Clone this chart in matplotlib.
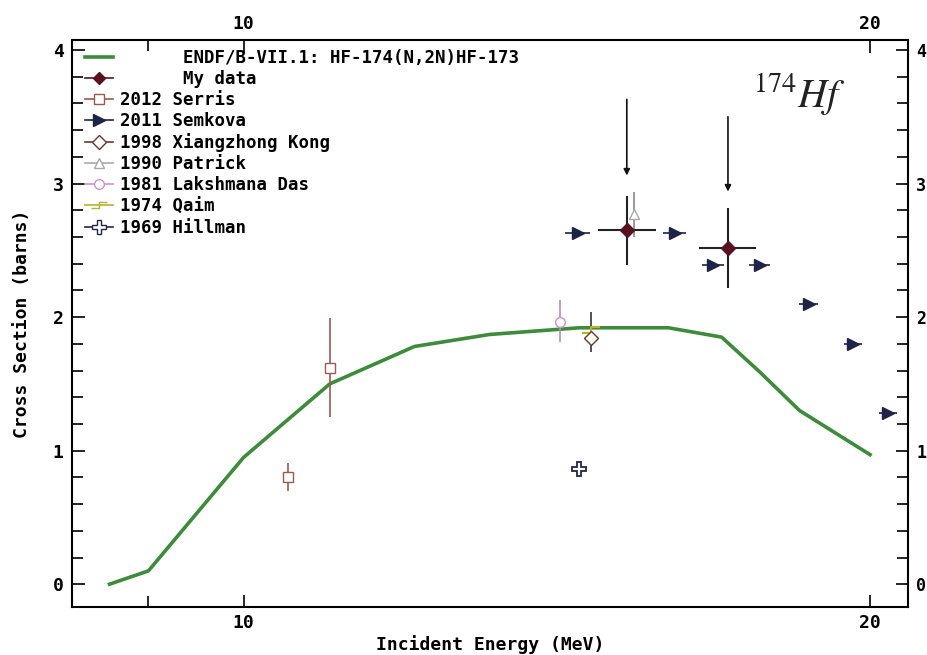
import numpy as np
import matplotlib.pyplot as plt
from matplotlib.ticker import FixedLocator, MultipleLocator, NullFormatter
from matplotlib.path import Path
from matplotlib.lines import Line2D

# ENDF/B-VII.1 evaluation
endf_e = [8.62, 9.0, 10.0, 11.0, 12.08, 13.13, 14.5, 16.0, 16.97, 17.7, 18.5, 20.0]
endf_xs = [0.0, 0.1, 0.95, 1.5, 1.78, 1.87, 1.92, 1.92, 1.85, 1.59, 1.30, 0.97]

my_e = [15.28, 17.09]
my_xs = [2.65, 2.52]
my_dxs = [0.26, 0.30]
my_de_lo = [0.48, 0.54]
my_de_hi = [0.50, 0.54]
arrow_top = [3.63, 3.50]
arrow_tip = [3.06, 2.94]

serris_e = [10.5, 11.0]
serris_xs = [0.80, 1.62]
serris_lo = [0.10, 0.37]
serris_hi = [0.11, 0.37]

semkova_e = [14.47, 16.11, 16.81, 17.7, 18.69, 19.63, 20.4]
semkova_xs = [2.63, 2.63, 2.39, 2.39, 2.10, 1.80, 1.28]
semkova_de = [0.2, 0.2, 0.2, 0.2, 0.2, 0.2, 0.2]

kong_e = [14.68]
kong_xs = [1.84]
kong_lo = [0.10]
kong_hi = [0.20]

patrick_e = [15.4]
patrick_xs = [2.77]
patrick_dxs = [0.17]

das_e = [14.19]
das_xs = [1.96]
das_lo = [0.15]
das_hi = [0.17]

qaim_e = [14.68]
qaim_xs = [1.90]

hillman_e = [14.49]
hillman_xs = [0.86]

zig = Path([(-1, -0.35), (0, -0.35), (0, 0.35), (1, 0.35)],
           [Path.MOVETO, Path.LINETO, Path.LINETO, Path.LINETO])

mono = 'DejaVu Sans Mono'
tick_font = {'family': mono, 'weight': 'bold', 'size': 13}

fig = plt.figure(figsize=(9.28, 6.55), dpi=100)
ax = fig.add_axes([0.0776, 0.073, 0.9005, 0.866])

l_endf, = ax.plot(endf_e, endf_xs, color='#3c8c3c', lw=2.6,
                  label='ENDF/B-VII.1: HF-174(N,2N)HF-173')

ax.errorbar(serris_e, serris_xs, yerr=[serris_lo, serris_hi], fmt='s', ms=7,
            mfc='white', mec='#9a5a50', ecolor='#9a5a50', elinewidth=1.2, capsize=0)
ax.errorbar(semkova_e, semkova_xs, xerr=semkova_de, fmt='>', ms=8,
            color='#1e2347', ecolor='#1e2347', elinewidth=1.2, capsize=0)
ax.errorbar(das_e, das_xs, yerr=[das_lo, das_hi], fmt='o', ms=7,
            mfc='white', mec='#d090d0', ecolor='#b090b0', elinewidth=1.2, capsize=0)
ax.errorbar(kong_e, kong_xs, yerr=[kong_lo, kong_hi], fmt='D', ms=7,
            mfc='white', mec='#6b3a2a', ecolor='#333333', elinewidth=1.2, capsize=0)
ax.plot(qaim_e, qaim_xs, ls='none', marker=zig, ms=13, mfc='none', mec='#b8b030', mew=1.5)
ax.errorbar(patrick_e, patrick_xs, yerr=patrick_dxs, fmt='^', ms=7,
            mfc='white', mec='#aaaaaa', ecolor='#888888', elinewidth=1.2, capsize=0)
ax.plot(hillman_e, hillman_xs, ls='none', marker='P', ms=10,
        mfc='white', mec='#22264a', mew=1.3)
ax.errorbar(my_e, my_xs, yerr=my_dxs, xerr=[my_de_lo, my_de_hi], fmt='D', ms=7,
            color='#5a1020', ecolor='#222222', elinewidth=1.5, capsize=0, zorder=5)

for e, y0, y1 in zip(my_e, arrow_top, arrow_tip):
    ax.annotate('', xy=(e, y1), xytext=(e, y0),
                arrowprops=dict(arrowstyle='-|>', color='#111111', lw=1.2,
                                mutation_scale=9, shrinkA=0, shrinkB=0))

ax.text(0.815, 0.905, r'$^{174}Hf$', transform=ax.transAxes, fontsize=29,
        math_fontfamily='stix', color='#222222', ha='left', va='center')

ax.set_xscale('log')
ax.set_xlim(8.27, 20.85)
ax.set_ylim(-0.172, 4.075)
ax.xaxis.set_major_locator(FixedLocator([10, 20]))
ax.xaxis.set_minor_locator(FixedLocator([9]))
ax.xaxis.set_major_formatter(plt.FixedFormatter(['10', '20']))
ax.xaxis.set_minor_formatter(NullFormatter())
ax.yaxis.set_major_locator(MultipleLocator(1))
ax.yaxis.set_minor_locator(MultipleLocator(0.2))

ax.tick_params(which='both', direction='in', top=True, right=True,
               labeltop=True, labelright=True, width=1.2)
ax.tick_params(which='major', length=9)
ax.tick_params(which='minor', length=8)
ax.tick_params(axis='x', which='major', pad=5)
ax.tick_params(axis='y', which='major', pad=6)
for t in ax.xaxis.get_major_ticks() + ax.yaxis.get_major_ticks():
    t.label1.set_fontproperties(tick_font)
    t.label2.set_fontproperties(tick_font)
for t in ax.yaxis.get_major_ticks():
    t.label2.set_fontsize(12)

for sp in ax.spines.values():
    sp.set_linewidth(1.5)

ax.set_xlabel('Incident Energy (MeV)', family=mono, weight='bold', fontsize=13, labelpad=2)
ax.set_ylabel('Cross Section (barns)', family=mono, weight='bold', fontsize=13, labelpad=16)

# legend handles
h = [
    l_endf,
    Line2D([], [], color='#5a1020', marker='D', ms=6, lw=1.2),
    Line2D([], [], color='#9a5a50', marker='s', ms=7, mfc='white', lw=1.2),
    Line2D([], [], color='#1e2347', marker='>', ms=8, lw=1.2),
    Line2D([], [], color='#6b3a2a', marker='D', ms=7, mfc='white', lw=1.2),
    Line2D([], [], color='#aaaaaa', marker='^', ms=7, mfc='white', lw=1.2),
    Line2D([], [], color='#d090d0', marker='o', ms=7, mfc='white', lw=1.2),
    Line2D([], [], color='#b8b030', marker=zig, ms=12, mfc='none', lw=1.2),
    Line2D([], [], color='#22264a', marker='P', ms=10, mfc='white', lw=1.2),
]
labels = ['      ENDF/B-VII.1: HF-174(N,2N)HF-173', '      My data', '2012 Serris',
          '2011 Semkova', '1998 Xiangzhong Kong', '1990 Patrick',
          '1981 Lakshmana Das', '1974 Qaim', '1969 Hillman']
leg = ax.legend(h, labels, loc='upper left', frameon=False, handlelength=1.6,
                handletextpad=0.4, labelspacing=0.18, borderaxespad=0.1,
                bbox_to_anchor=(0.005, 1.0),
                prop={'family': mono, 'weight': 'bold', 'size': 12.5})

fig.savefig('out.png', dpi=100, facecolor='white')
